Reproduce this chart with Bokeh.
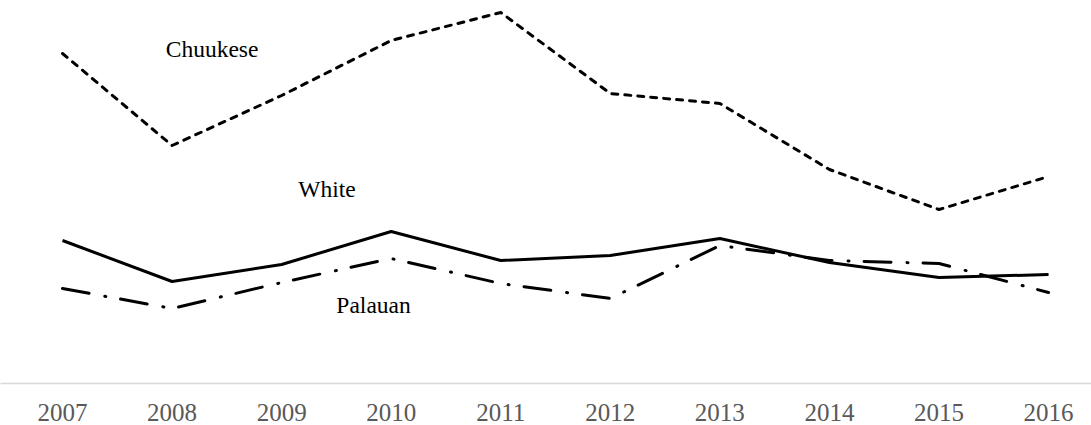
from bokeh.plotting import figure
from bokeh.models import Range1d, FixedTicker, ColumnDataSource
from bokeh.core.properties import value
from bokeh.embed import file_html
from bokeh.resources import INLINE

years = [2007, 2008, 2009, 2010, 2011, 2012, 2013, 2014, 2015, 2016]
year_labels = ["2007", "2008", "2009", "2010", "2011", "2012", "2013", "2014", "2015", "2016"]
chuukese = [33.0, 23.8, 28.8, 34.3, 37.1, 29.0, 28.0, 21.4, 17.4, 20.7]
white = [14.3, 10.2, 11.9, 15.2, 12.3, 12.8, 14.5, 12.1, 10.6, 10.9]
palauan = [9.5, 7.5, 10.1, 12.5, 10.0, 8.5, 13.8, 12.3, 12.0, 9.1]

series_names = ["Chuukese", "White", "Palauan"]
label_x = [2008.365, 2009.414, 2009.839]
label_y = [33.5, 19.5, 7.9]

p = figure(width=1091, height=425, output_backend="svg", toolbar_location=None,
           x_range=Range1d(2006.434, 2016.392), y_range=Range1d(0, 38.3),
           y_axis_location=None, min_border_left=0, min_border_right=0,
           min_border_top=0, min_border_bottom=42)
p.outline_line_color = None
p.xgrid.visible = False
p.ygrid.visible = False
p.background_fill_color = "white"
p.border_fill_color = "white"

ax = p.xaxis[0]
ax.ticker = FixedTicker(ticks=years)
ax.major_label_overrides = {y: l for y, l in zip(years, year_labels)}
ax.axis_line_color = "#d9d9d9"
ax.axis_line_width = 1.5
ax.major_tick_line_color = None
ax.minor_tick_line_color = None
ax.major_label_standoff = 14
ax.major_label_text_font = "Liberation Serif"
ax.major_label_text_font_size = "25px"
ax.major_label_text_color = "#595959"

p.line(years, chuukese, line_color="black", line_width=3, line_dash="6 7",
       line_cap="round", line_join="round")
p.line(years, white, line_color="black", line_width=3, line_join="round")
p.line(years, palauan, line_color="black", line_width=3, line_dash="27 16 1 15",
       line_cap="round", line_join="round")

src = ColumnDataSource(dict(x=label_x, y=label_y, t=series_names))
p.text(x="x", y="y", text="t", source=src, text_font=value("Liberation Serif"),
       text_font_size="23.5px", text_align="center", text_baseline="alphabetic",
       text_color="black")

open("out.html", "w").write(file_html(p, INLINE))
